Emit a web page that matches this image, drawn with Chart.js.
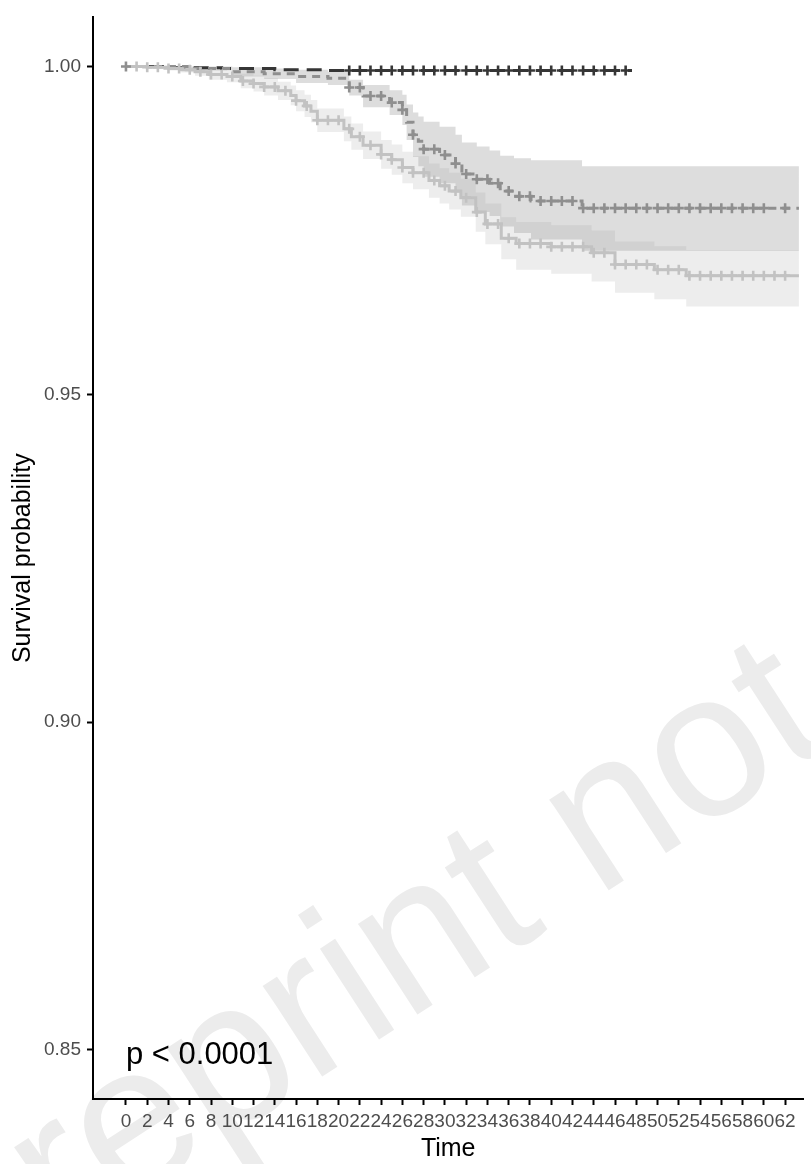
<!DOCTYPE html>
<html>
<head>
<meta charset="utf-8">
<script src="https://cdn.jsdelivr.net/npm/chart.js@4.4.1/dist/chart.umd.min.js"></script>
<style>
  html, body { margin: 0; padding: 0; background: #fff; }
  #wrap { width: 811px; height: 1164px; position: relative; }
</style>
</head>
<body>
<div id="wrap"><canvas id="km"></canvas></div>
<script>
// Axis ticks
const xTicks = [0, 2, 4, 6, 8, 10, 12, 14, 16, 18, 20, 22, 24, 26, 28, 30, 32, 34, 36, 38, 40, 42, 44, 46, 48, 50, 52, 54, 56, 58, 60, 62];
const yTicks = [0.85, 0.90, 0.95, 1.00];

// Stratum 1 (dark, long dash)
const darkTime = [0, 4, 9, 14, 19, 47.6];
const darkSurv = [1.0, 0.9998, 0.9997, 0.9995, 0.9994, 0.9994];
const darkCensor = [21, 22, 23, 24, 25, 26, 27, 28, 29, 30, 31, 32, 33, 34, 35, 36, 37, 38, 39, 40, 41, 42, 43, 44, 45, 46, 47];

// Stratum 2 (mid grey, dashed) with confidence band
const midTime  = [0, 6, 10, 13, 16, 19, 21, 22.3, 24.8, 26.0, 26.4, 27.0, 27.5, 28.0, 29.5, 31.0, 31.6, 33.0, 34.2, 35.2, 36.5, 38.1, 42.9, 63.3];
const midSurv  = [1.0, 0.9997, 0.9992, 0.9989, 0.9985, 0.9982, 0.9968, 0.9955, 0.9945, 0.9934, 0.9915, 0.9896, 0.9886, 0.9874, 0.9865, 0.9852, 0.9836, 0.9828, 0.9822, 0.9810, 0.9802, 0.9795, 0.9784, 0.9784];
const midUpper = [1.0, 1.0, 0.9999, 0.9997, 0.9995, 0.9992, 0.9980, 0.9972, 0.9964, 0.9957, 0.9942, 0.9930, 0.9924, 0.9916, 0.9908, 0.9896, 0.9884, 0.9878, 0.9872, 0.9864, 0.9860, 0.9857, 0.9848, 0.9848];
const midLower = [1.0, 0.9994, 0.9985, 0.9981, 0.9975, 0.9972, 0.9956, 0.9938, 0.9926, 0.9911, 0.9888, 0.9862, 0.9848, 0.9832, 0.9822, 0.9808, 0.9788, 0.9778, 0.9772, 0.9756, 0.9746, 0.9736, 0.9719, 0.9719];
const midCensor = [0, 21, 22, 23, 24, 25, 26, 27, 28, 29, 30, 31, 32, 33, 34, 35, 36, 37, 38, 39, 40, 41, 42, 43, 44, 45, 46, 47, 48, 49, 50, 51, 52, 53, 54, 55, 56, 57, 58, 59, 60, 62];

// Stratum 3 (light grey, solid) with confidence band
const lightTime  = [0, 2, 4, 5.2, 6.5, 7.8, 9.5, 10.8, 12.0, 13.0, 14.3, 15.5, 16.0, 16.8, 17.4, 18.0, 20.5, 21.2, 22.3, 24.0, 25.0, 26.0, 27.0, 28.5, 29.5, 30.4, 31.5, 32.9, 33.8, 35.3, 36.7, 40.0, 43.8, 46.0, 49.7, 52.7, 63.3];
const lightSurv  = [1.0, 0.9999, 0.9997, 0.9995, 0.9992, 0.9988, 0.9985, 0.9978, 0.9974, 0.9969, 0.9963, 0.9956, 0.9948, 0.9940, 0.9932, 0.9918, 0.9905, 0.9893, 0.9880, 0.9866, 0.9858, 0.9846, 0.9838, 0.9826, 0.9818, 0.9810, 0.9800, 0.9778, 0.9760, 0.9738, 0.9730, 0.9725, 0.9716, 0.9698, 0.9690, 0.9681, 0.9681];
const lightUpper = [1.0, 1.0, 1.0, 0.9999, 0.9998, 0.9996, 0.9994, 0.9989, 0.9986, 0.9982, 0.9977, 0.9971, 0.9964, 0.9957, 0.9949, 0.9936, 0.9924, 0.9913, 0.9901, 0.9888, 0.9881, 0.9870, 0.9863, 0.9852, 0.9845, 0.9838, 0.9829, 0.9808, 0.9791, 0.9770, 0.9763, 0.9758, 0.9750, 0.9733, 0.9726, 0.9720, 0.9720];
const lightLower = [1.0, 0.9997, 0.9994, 0.9991, 0.9986, 0.9980, 0.9976, 0.9967, 0.9962, 0.9956, 0.9949, 0.9941, 0.9932, 0.9923, 0.9915, 0.9900, 0.9886, 0.9873, 0.9859, 0.9844, 0.9835, 0.9822, 0.9813, 0.9800, 0.9791, 0.9782, 0.9771, 0.9748, 0.9729, 0.9706, 0.9690, 0.9684, 0.9672, 0.9655, 0.9645, 0.9634, 0.9634];
const lightCensor = [1, 2, 3, 4, 5, 6, 7, 8, 9, 10, 11, 12, 13, 14, 15, 16, 17, 18, 19, 20, 21, 22, 23, 24, 25, 26, 27, 28, 29, 30, 31, 32, 33, 34, 35, 36, 37, 38, 39, 40, 41, 42, 43, 44, 45, 46, 47, 48, 49, 50, 51, 52, 53, 54, 55, 56, 57, 58, 59, 60, 61, 62];

const pValueText = 'p < 0.0001';
const pValueAt = [0, 0.85];
const watermarkText = 'Preprint not peer reviewed';

const FONT = '"Liberation Sans", Arial, Helvetica, sans-serif';
const DARK = '#363636', MID = '#8f8f8f', LIGHT = '#c2c2c2';

const toPoints = (ts, vs) => ts.map((t, i) => ({ x: t, y: vs[i] }));
// survival value of a step curve at time t (value of the last step at or before t)
function stepValue(ts, vs, t) {
  let v = vs[0];
  for (let i = 0; i < ts.length; i++) if (ts[i] <= t) v = vs[i];
  return v;
}
const censorPoints = (cs, ts, vs) => cs.map(t => ({ x: t, y: stepValue(ts, vs, t) }));

const band = (data, fill, color) => ({
  type: 'line', data, stepped: true, fill, backgroundColor: color,
  borderWidth: 0, pointRadius: 0, order: 30
});
const curve = (data, color, dash) => ({
  type: 'line', data, stepped: true, fill: false, borderColor: color,
  borderWidth: 3, borderDash: dash, pointRadius: 0, order: 20
});
const marks = (data, color) => ({
  type: 'line', data, showLine: false, pointStyle: 'cross', pointRadius: 5,
  pointBorderWidth: 2.6, pointBorderColor: color, pointBackgroundColor: color, order: 10
});

// faint diagonal watermark behind the plot
const watermark = {
  id: 'watermark',
  beforeDraw(chart) {
    const ctx = chart.ctx;
    ctx.save();
    ctx.fillStyle = '#ececec';
    ctx.font = '205px ' + FONT;
    ctx.textBaseline = 'alphabetic';
    ctx.translate(-53, 1320);
    ctx.rotate(-33 * Math.PI / 180);
    ctx.fillText(watermarkText, 0, 0);
    ctx.restore();
  }
};

const pValueLabel = {
  id: 'pValueLabel',
  afterDatasetsDraw(chart) {
    const { ctx, scales: { x, y } } = chart;
    ctx.save();
    ctx.fillStyle = '#000';
    ctx.font = '31px ' + FONT;
    ctx.textAlign = 'left';
    ctx.textBaseline = 'alphabetic';
    ctx.fillText(pValueText, x.getPixelForValue(pValueAt[0]), y.getPixelForValue(pValueAt[1]) + 14);
    ctx.restore();
  }
};

new Chart(document.getElementById('km'), {
  type: 'line',
  data: {
    datasets: [
      band(toPoints(midTime, midUpper), '+1', 'rgba(143,143,143,0.3)'),
      band(toPoints(midTime, midLower), false, 'rgba(0,0,0,0)'),
      band(toPoints(lightTime, lightUpper), '+1', 'rgba(194,194,194,0.3)'),
      band(toPoints(lightTime, lightLower), false, 'rgba(0,0,0,0)'),
      curve(toPoints(lightTime, lightSurv), LIGHT, []),
      curve(toPoints(midTime, midSurv), MID, [8, 6]),
      curve(toPoints(darkTime, darkSurv), DARK, [15, 8]),
      marks(censorPoints(lightCensor, lightTime, lightSurv), LIGHT),
      marks(censorPoints(midCensor, midTime, midSurv), MID),
      marks(censorPoints(darkCensor, darkTime, darkSurv), DARK)
    ]
  },
  options: {
    responsive: true,
    maintainAspectRatio: false,
    animation: false,
    layout: { padding: { top: 12, right: 0, bottom: 0, left: 0 } },
    plugins: { legend: { display: false }, tooltip: { enabled: false } },
    scales: {
      x: {
        type: 'linear', min: -3.1, max: 63.72,
        afterBuildTicks: s => { s.ticks = xTicks.map(v => ({ value: v })); },
        afterFit: s => { s.height = 65; },
        ticks: { autoSkip: false, maxRotation: 0, minRotation: 0, padding: 5, color: '#4d4d4d', font: { size: 19, family: FONT } },
        grid: { drawOnChartArea: false, drawTicks: true, tickLength: 6, tickWidth: 2, tickColor: '#000' },
        border: { display: true, color: '#000', width: 2 },
        title: { display: true, text: 'Time', color: '#000', font: { size: 25, family: FONT }, padding: { top: 0, bottom: 0 } }
      },
      y: {
        type: 'linear', min: 0.8425, max: 1.0075,
        afterBuildTicks: s => { s.ticks = yTicks.map(v => ({ value: v })); },
        afterFit: s => { s.width = 93; },
        ticks: { callback: v => Number(v).toFixed(2), padding: 6, color: '#4d4d4d', font: { size: 19, family: FONT } },
        grid: { drawOnChartArea: false, drawTicks: true, tickLength: 6, tickWidth: 2, tickColor: '#000' },
        border: { display: true, color: '#000', width: 2 },
        title: { display: true, text: 'Survival probability', color: '#000', font: { size: 25, family: FONT }, padding: { top: 8, bottom: 0 } }
      }
    }
  },
  plugins: [watermark, pValueLabel]
});
</script>
</body>
</html>
